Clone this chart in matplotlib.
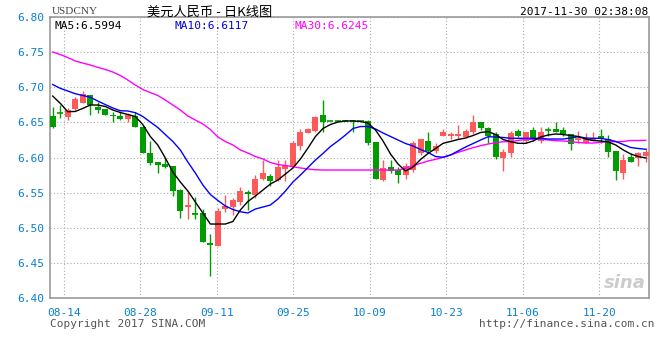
import numpy as np
import matplotlib
matplotlib.use("Agg")
import matplotlib.pyplot as plt

# daily candles, Aug 10 - Nov 29 (weekdays, Oct 2-6 holiday flat)
opens = [6.659, 6.663, 6.658, 6.669, 6.678, 6.689, 6.672, 6.669, 6.661, 6.659,
         6.655, 6.659, 6.644, 6.607, 6.594, 6.591, 6.588, 6.554, 6.529, 6.521,
         6.521, 6.479, 6.474, 6.526, 6.529, 6.537, 6.551, 6.546, 6.569, 6.574,
         6.568, 6.583, 6.588, 6.616, 6.635, 6.638, 6.661, 6.652, 6.652, 6.652,
         6.652, 6.652, 6.652, 6.622, 6.568, 6.586, 6.582, 6.575, 6.582, 6.606,
         6.624, 6.609, 6.631, 6.630, 6.630, 6.629, 6.637, 6.650, 6.642, 6.634,
         6.600, 6.607, 6.638, 6.623, 6.639, 6.623, 6.639, 6.641, 6.639, 6.634,
         6.625, 6.621, 6.624, 6.631, 6.627, 6.609, 6.578, 6.601, 6.600, 6.602]
highs = [6.672, 6.675, 6.670, 6.686, 6.695, 6.689, 6.679, 6.669, 6.665, 6.665,
         6.664, 6.665, 6.646, 6.623, 6.594, 6.599, 6.588, 6.555, 6.551, 6.544,
         6.526, 6.491, 6.528, 6.547, 6.543, 6.558, 6.554, 6.575, 6.597, 6.577,
         6.597, 6.597, 6.624, 6.640, 6.642, 6.659, 6.682, 6.652, 6.652, 6.652,
         6.652, 6.652, 6.654, 6.622, 6.597, 6.596, 6.587, 6.592, 6.623, 6.627,
         6.637, 6.620, 6.640, 6.637, 6.646, 6.641, 6.661, 6.650, 6.643, 6.637,
         6.612, 6.638, 6.640, 6.637, 6.643, 6.644, 6.644, 6.651, 6.644, 6.634,
         6.638, 6.635, 6.637, 6.641, 6.632, 6.609, 6.605, 6.606, 6.608, 6.614]
lows = [6.642, 6.656, 6.654, 6.668, 6.677, 6.661, 6.663, 6.660, 6.651, 6.653,
        6.650, 6.644, 6.606, 6.589, 6.578, 6.585, 6.545, 6.514, 6.512, 6.512,
        6.480, 6.431, 6.474, 6.523, 6.518, 6.533, 6.525, 6.543, 6.568, 6.559,
        6.567, 6.567, 6.587, 6.610, 6.635, 6.636, 6.637, 6.652, 6.652, 6.652,
        6.637, 6.652, 6.618, 6.569, 6.566, 6.578, 6.563, 6.570, 6.579, 6.604,
        6.606, 6.606, 6.631, 6.626, 6.627, 6.628, 6.634, 6.639, 6.621, 6.598,
        6.581, 6.601, 6.629, 6.620, 6.623, 6.621, 6.631, 6.636, 6.630, 6.610,
        6.620, 6.621, 6.623, 6.621, 6.601, 6.568, 6.570, 6.594, 6.588, 6.593]
closes = [6.644, 6.663, 6.668, 6.683, 6.690, 6.675, 6.668, 6.661, 6.659, 6.655,
          6.661, 6.644, 6.606, 6.592, 6.590, 6.587, 6.553, 6.524, 6.532, 6.520,
          6.480, 6.475, 6.524, 6.531, 6.540, 6.552, 6.548, 6.570, 6.578, 6.567,
          6.586, 6.590, 6.620, 6.637, 6.640, 6.657, 6.651, 6.652, 6.652, 6.652,
          6.652, 6.652, 6.621, 6.569, 6.585, 6.581, 6.575, 6.588, 6.621, 6.626,
          6.609, 6.616, 6.637, 6.633, 6.634, 6.638, 6.650, 6.642, 6.631, 6.601,
          6.608, 6.635, 6.631, 6.637, 6.625, 6.637, 6.639, 6.636, 6.633, 6.619,
          6.626, 6.626, 6.628, 6.626, 6.608, 6.581, 6.597, 6.594, 6.607, 6.608]

# moving averages
ma5 = [6.6875, 6.6772, 6.6652, 6.6655, 6.6698, 6.6747, 6.6747, 6.6726, 6.6676, 6.6641,
       6.6612, 6.6584, 6.6470, 6.6299, 6.6178, 6.5993, 6.5794, 6.5651, 6.5523, 6.5367,
       6.5210, 6.5053, 6.5053, 6.5053, 6.5089, 6.5253, 6.5374, 6.5452, 6.5537, 6.5623,
       6.5680, 6.5765, 6.5851, 6.5979, 6.6135, 6.6299, 6.6413, 6.6470, 6.6505, 6.6520,
       6.6520, 6.6512, 6.6491, 6.6391, 6.6235, 6.6050, 6.5907, 6.5808, 6.5865, 6.5972,
       6.6057, 6.6128, 6.6202, 6.6228, 6.6256, 6.6278, 6.6313, 6.6356, 6.6370, 6.6327,
       6.6256, 6.6225, 6.6202, 6.6202, 6.6235, 6.6292, 6.6320, 6.6335, 6.6327, 6.6313,
       6.6299, 6.6263, 6.6242, 6.6235, 6.6221, 6.6178, 6.6107, 6.6050, 6.6014, 6.5994]
ma10 = [6.7039, 6.6985, 6.6947, 6.6908, 6.6883, 6.6857, 6.6804, 6.6754, 6.6705, 6.6666,
        6.6662, 6.6638, 6.6584, 6.6505, 6.6427, 6.6327, 6.6228, 6.6107, 6.5936, 6.5779,
        6.5609, 6.5473, 6.5388, 6.5310, 6.5260, 6.5228, 6.5210, 6.5267, 6.5295, 6.5324,
        6.5409, 6.5523, 6.5651, 6.5751, 6.5858, 6.5964, 6.6057, 6.6157, 6.6235, 6.6320,
        6.6413, 6.6441, 6.6441, 6.6406, 6.6349, 6.6299, 6.6249, 6.6199, 6.6164, 6.6114,
        6.6071, 6.6014, 6.6003, 6.6036, 6.6093, 6.6149, 6.6199, 6.6249, 6.6296, 6.6292,
        6.6285, 6.6273, 6.6273, 6.6273, 6.6273, 6.6273, 6.6263, 6.6263, 6.6263, 6.6278,
        6.6296, 6.6278, 6.6273, 6.6273, 6.6256, 6.6228, 6.6185, 6.6142, 6.6128, 6.6117]
ma30 = [6.7502, 6.7466, 6.7423, 6.7374, 6.7345, 6.7317, 6.7284, 6.7253, 6.7217, 6.7168,
        6.7103, 6.7032, 6.6968, 6.6925, 6.6883, 6.6818, 6.6747, 6.6676, 6.6591, 6.6534,
        6.6477, 6.6399, 6.6292, 6.6228, 6.6178, 6.6107, 6.6064, 6.6014, 6.5979, 6.5929,
        6.5900, 6.5886, 6.5869, 6.5851, 6.5836, 6.5826, 6.5822, 6.5822, 6.5822, 6.5822,
        6.5822, 6.5822, 6.5822, 6.5822, 6.5822, 6.5822, 6.5822, 6.5846, 6.5884, 6.5917,
        6.5950, 6.5974, 6.6003, 6.6036, 6.6074, 6.6107, 6.6140, 6.6168, 6.6192, 6.6211,
        6.6225, 6.6225, 6.6242, 6.6259, 6.6259, 6.6259, 6.6249, 6.6239, 6.6235, 6.6225,
        6.6214, 6.6206, 6.6206, 6.6216, 6.6225, 6.6225, 6.6228, 6.6242, 6.6242, 6.6245]

tick_labels = ["08-14", "08-28", "09-11", "09-25", "10-09", "10-23", "11-06", "11-20"]
y_ticks = [6.40, 6.45, 6.50, 6.55, 6.60, 6.65, 6.70, 6.75, 6.80]

UP = "#ff5a5a"
DOWN = "#009c00"
LBL = "#0a7fd0"
MONO = "DejaVu Sans Mono"

o = np.array(opens); h = np.array(highs); l = np.array(lows); c = np.array(closes)
x = np.arange(len(o))

fig = plt.figure(figsize=(6.6, 3.6), dpi=100)
ax = fig.add_axes([50 / 660, 62 / 360, 599 / 660, 281 / 360])

colors = np.where(c > o, UP, DOWN)
# wicks
ax.vlines(x, l, h, colors=colors, linewidth=1, zorder=3)
# bodies
body_lo = np.minimum(o, c)
body_h = np.abs(c - o)
ax.bar(x, body_h, bottom=body_lo, width=0.8, color=colors, linewidth=0, zorder=4)
# doji / flat days as short ticks
flat = body_h < 0.0015
ax.hlines(c[flat], x[flat] - 0.4, x[flat] + 0.4, colors=colors[flat], linewidth=1.2, zorder=4)

ax.plot(x, ma30, color="#ff00ff", linewidth=1, zorder=5)
ax.plot(x, ma10, color="#0000ff", linewidth=1, zorder=5)
ax.plot(x, ma5, color="black", linewidth=1, zorder=6)

ax.set_xlim(-0.36, 79.43)
ax.set_ylim(6.40, 6.80)
ax.set_yticks(y_ticks)
ax.set_yticklabels(["%.2f" % v for v in y_ticks], fontfamily=MONO, fontsize=8, color=LBL)
ax.set_xticks(np.linspace(1.5, 72.8, len(tick_labels)))
ax.set_xticklabels(tick_labels, fontfamily=MONO, fontsize=8, color=LBL)
ax.tick_params(axis="y", length=0, pad=4)
ax.tick_params(axis="x", length=0, pad=7)
ax.grid(True, color="#aaaaaa", linestyle=(0, (1, 2)), linewidth=0.8)
ax.set_axisbelow(True)
for s in ax.spines.values():
    s.set_color("#999999")
    s.set_linewidth(1.2)

# MA legend inside plot
ax.text(0.008, 0.985, "MA5:%.4f" % ma5[-1], transform=ax.transAxes, ha="left", va="top",
        fontfamily=MONO, fontsize=8, color="black")
ax.text(0.208, 0.985, "MA10:%.4f" % ma10[-1], transform=ax.transAxes, ha="left", va="top",
        fontfamily=MONO, fontsize=8, color="#0000dd")
ax.text(0.408, 0.985, "MA30:%.4f" % ma30[-1], transform=ax.transAxes, ha="left", va="top",
        fontfamily=MONO, fontsize=8, color="#ff00ff")

# sina watermark
ax.text(0.995, 0.02, "sina", transform=ax.transAxes, ha="right", va="bottom",
        fontsize=13, style="italic", fontweight="bold", color="#cccccc", zorder=1)

# header / footer
fig.text(52 / 660, 1 - 12 / 360, "USDCNY", ha="left", va="center", fontsize=8,
         fontfamily="Liberation Serif", color="#444444")
fig.text(210 / 660, 1 - 12 / 360, "美元人民币 - 日K线图", ha="center", va="center", fontsize=9.5,
         fontfamily=["Noto Sans CJK SC", "DejaVu Sans"], color="black")
fig.text(648 / 660, 1 - 12 / 360, "2017-11-30 02:38:08", ha="right", va="center",
         fontfamily=MONO, fontsize=8, color="black")
fig.text(50 / 660, 1 - 324 / 360, "Copyright 2017 SINA.COM", ha="left", va="center",
         fontfamily=MONO, fontsize=8, color="#555555")
fig.text(654 / 660, 1 - 324 / 360, "http://finance.sina.com.cn", ha="right", va="center",
         fontfamily=MONO, fontsize=8, color="#555555")

fig.savefig("out.png", dpi=100)
